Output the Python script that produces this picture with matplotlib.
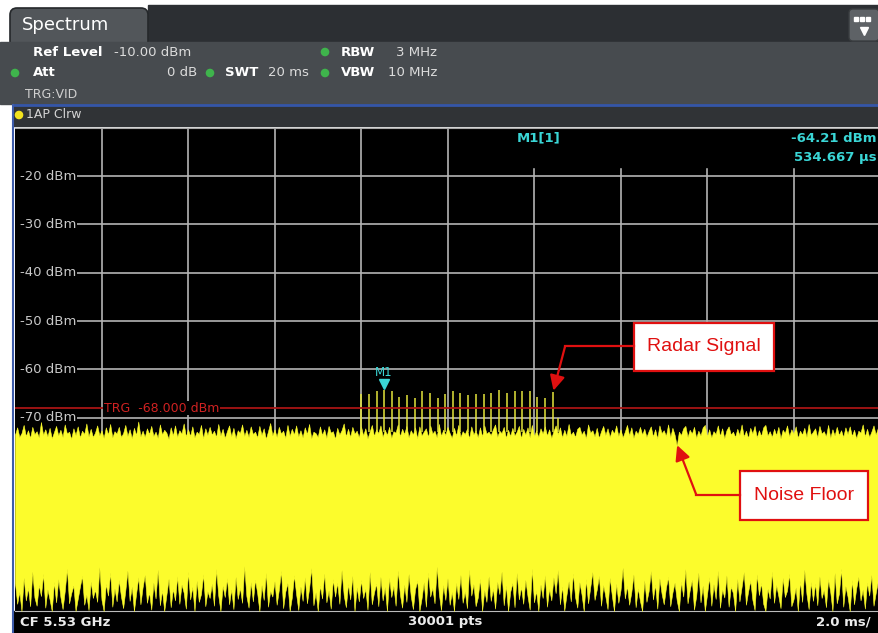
import numpy as np
import matplotlib.pyplot as plt
from matplotlib.patches import Rectangle, FancyBboxPatch, Circle

# sweep: 0..20 ms, trace values in dBm (auto peak -> min/max per column)
sweep_ms = np.linspace(0, 20, 401)

noise_top = [
    -73.5, -72.0, -74.0, -73.2, -71.5, -73.8, -72.6, -74.2, -71.9, -73.4,
    -72.8, -74.1, -70.9, -73.6, -72.4, -73.9, -72.1, -74.3, -73.0, -71.7,
    -73.7, -72.5, -74.0, -71.4, -73.3, -72.9, -74.4, -72.2, -73.6, -71.8,
    -74.1, -72.7, -73.4, -71.2, -73.9, -72.3, -74.0, -73.1, -71.6, -73.7,
    -72.6, -74.2, -72.0, -73.5, -71.3, -74.1, -72.8, -73.3, -71.9, -74.0,
    -73.2, -71.5, -73.8, -72.4, -74.3, -72.1, -73.6, -70.8, -73.9, -72.7,
    -74.0, -72.2, -73.4, -71.7, -73.8, -72.9, -74.2, -71.4, -73.5, -72.5,
    -73.1, -74.4, -72.0, -73.7, -71.6, -74.0, -72.6, -73.3, -71.2, -73.9,
    -72.4, -73.8, -71.8, -74.1, -72.9, -73.4, -71.5, -74.3, -72.2, -73.6,
    -71.9, -73.5, -72.7, -74.0, -71.3, -73.7, -72.3, -74.2, -72.8, -71.6,
    -73.9, -72.1, -74.3, -72.6, -73.2, -71.4, -73.8, -72.5, -74.0, -71.8,
    -73.4, -72.9, -74.1, -71.7, -73.6, -72.2, -74.4, -72.8, -71.1, -73.7,
    -72.4, -74.0, -71.9, -73.3, -72.7, -74.2, -71.5, -73.8, -72.3, -73.5,
    -71.6, -73.9, -72.6, -74.1, -72.0, -73.4, -71.3, -74.3, -72.9, -73.2,
    -74.0, -71.8, -73.6, -72.4, -74.2, -71.7, -73.1, -72.8, -74.4, -72.1,
    -73.5, -72.6, -71.2, -73.9, -72.3, -74.0, -71.9, -73.3, -72.7, -74.1,
    -71.8, -73.7, -72.2, -74.3, -72.9, -71.5, -73.8, -72.4, -73.2, -71.6,
    -74.0, -72.5, -73.6, -71.9, -74.2, -72.8, -73.1, -71.4, -73.9, -72.3,
    -73.4, -71.7, -74.1, -72.6, -73.5, -72.0, -74.3, -71.8, -73.7, -72.9,
    -72.2, -74.0, -71.6, -73.3, -72.7, -74.1, -71.3, -73.8, -72.5, -73.6,
    -71.9, -73.2, -74.2, -72.1, -73.7, -71.5, -74.0, -72.8, -73.4, -72.3,
    -74.3, -71.8, -73.5, -72.6, -74.1, -72.0, -73.9, -71.6, -73.3, -72.9,
    -73.6, -72.4, -71.4, -74.0, -72.7, -73.2, -71.9, -74.2, -72.5, -73.8,
    -72.1, -73.7, -72.9, -71.7, -74.3, -72.3, -73.5, -72.0, -74.1, -71.5,
    -73.9, -72.6, -74.0, -72.2, -73.3, -71.8, -73.7, -72.4, -74.2, -72.8,
    -71.6, -73.4, -72.0, -74.1, -72.5, -73.8, -71.3, -73.6, -72.9, -74.0,
    -72.3, -71.9, -73.5, -72.7, -74.3, -71.4, -73.1, -72.6, -73.9, -72.1,
    -74.2, -72.8, -71.7, -73.6, -72.2, -74.0, -72.5, -73.3, -71.6, -73.8,
    -72.4, -74.1, -72.9, -71.5, -73.7, -72.0, -74.2, -72.7, -73.4, -71.9,
    -73.5, -72.3, -74.0, -72.8, -71.8, -73.9, -72.4, -74.3, -71.6, -73.2,
    -72.6, -73.8, -71.4, -74.1, -72.1, -73.5, -75.8, -72.9, -73.6, -72.2,
    -71.7, -74.0, -72.5, -73.3, -71.9, -74.2, -72.7, -73.7, -72.0, -71.5,
    -73.9, -72.4, -74.1, -72.8, -73.4, -71.6, -73.8, -72.2, -74.3, -72.6,
    -71.8, -73.5, -72.9, -74.0, -72.3, -73.6, -71.4, -73.9, -72.7, -74.2,
    -72.1, -73.3, -71.7, -74.1, -72.6, -73.8, -72.0, -71.5, -73.7, -72.8,
    -74.0, -72.3, -73.6, -71.9, -74.3, -72.5, -73.2, -71.6, -73.9, -72.4,
    -73.4, -71.8, -74.2, -72.7, -73.5, -72.1, -74.0, -71.3, -73.6, -72.9,
    -72.2, -74.1, -71.7, -73.3, -72.8, -73.9, -71.5, -74.2, -72.4, -73.7,
    -71.9, -73.6, -72.6, -74.0, -72.0, -73.4, -71.8, -73.8, -72.5, -74.3,
    -72.7, -73.1, -71.4, -73.9, -72.3, -74.0, -72.9, -71.6, -73.5, -72.1,
    -73.8,
]

noise_bottom = [
    -104.2, -108.5, -106.0, -110.0, -103.1, -107.8, -105.2, -109.0, -101.8, -107.2,
    -108.9, -104.6, -106.9, -102.3, -109.3, -105.5, -107.6, -110.0, -104.0, -108.2,
    -103.4, -107.1, -109.6, -105.9, -101.2, -108.4, -106.3, -104.7, -110.0, -107.5,
    -105.0, -102.7, -108.7, -106.6, -109.8, -103.9, -107.3, -105.6, -108.1, -100.9,
    -107.7, -110.0, -104.4, -106.8, -102.0, -109.1, -105.3, -108.0, -103.6, -107.0,
    -109.4, -105.8, -101.6, -107.9, -104.9, -110.0, -106.4, -103.0, -108.6, -105.1,
    -102.5, -108.3, -106.1, -109.7, -104.1, -107.4, -101.4, -108.8, -105.7, -110.0,
    -106.7, -103.3, -109.2, -105.4, -107.8, -102.8, -108.5, -104.5, -106.2, -109.5,
    -101.9, -107.6, -105.0, -110.0, -103.7, -108.1, -106.5, -102.4, -109.0, -105.9,
    -107.3, -104.3, -108.9, -101.3, -106.8, -110.0, -104.8, -107.1, -103.2, -108.6,
    -105.5, -109.6, -102.9, -107.5, -105.2, -108.3, -100.7, -106.9, -109.3, -104.0,
    -108.0, -103.5, -106.3, -110.0, -104.6, -107.7, -102.1, -109.1, -105.8, -107.0,
    -103.8, -108.7, -105.6, -101.7, -109.4, -106.0, -104.2, -110.0, -107.2, -102.6,
    -106.5, -109.8, -104.9, -107.9, -103.0, -108.4, -105.3, -101.1, -108.8, -106.1,
    -110.0, -104.7, -107.4, -102.2, -108.2, -105.7, -109.5, -103.4, -107.0, -104.1,
    -108.5, -101.5, -106.7, -109.2, -104.4, -107.6, -102.7, -110.0, -105.1, -108.0,
    -103.6, -107.3, -105.4, -109.7, -101.9, -108.6, -106.2, -104.3, -109.0, -102.9,
    -107.8, -105.0, -110.0, -103.1, -107.1, -104.8, -108.9, -101.6, -106.6, -109.3,
    -104.5, -108.1, -102.3, -106.9, -109.6, -105.5, -103.7, -110.0, -107.4, -104.0,
    -109.1, -102.0, -107.0, -105.2, -108.4, -100.8, -106.4, -109.8, -104.6, -107.7,
    -103.2, -108.7, -106.0, -110.0, -104.1, -107.5, -102.5, -108.3, -105.9, -109.4,
    -101.4, -106.8, -104.4, -109.0, -107.2, -103.3, -110.0, -105.6, -108.1, -102.8,
    -107.9, -105.3, -109.5, -103.9, -106.5, -101.8, -108.8, -104.7, -110.0, -106.0,
    -104.2, -109.2, -102.1, -107.6, -105.0, -108.5, -103.5, -106.9, -109.7, -101.2,
    -108.2, -105.8, -110.0, -104.5, -107.3, -102.6, -109.1, -105.4, -107.8, -103.0,
    -106.3, -101.5, -108.6, -104.9, -109.9, -106.7, -103.8, -108.0, -102.2, -107.1,
    -109.3, -104.0, -106.6, -110.0, -103.4, -108.4, -105.1, -101.9, -107.7, -105.6,
    -102.7, -108.9, -104.6, -107.0, -109.6, -103.1, -106.8, -110.0, -104.3, -108.3,
    -105.7, -101.0, -107.4, -104.8, -108.7, -106.1, -102.4, -109.2, -105.3, -107.9,
    -110.0, -103.6, -108.1, -105.9, -101.7, -107.6, -104.5, -109.5, -103.2, -106.4,
    -108.6, -105.2, -102.9, -109.0, -106.2, -104.1, -107.8, -110.0, -103.9, -107.0,
    -101.3, -108.4, -105.7, -103.5, -109.7, -106.9, -102.0, -108.2, -104.7, -110.0,
    -106.6, -103.0, -108.9, -104.4, -107.5, -101.6, -109.3, -105.5, -107.2, -102.6,
    -109.1, -104.9, -106.3, -110.0, -103.3, -108.0, -105.0, -101.9, -108.7, -106.0,
    -103.7, -107.7, -109.8, -102.4, -106.7, -104.2, -108.5, -110.0, -105.4, -107.4,
    -101.8, -108.3, -104.6, -106.9, -109.4, -103.1, -107.1, -105.8, -102.3, -109.0,
    -107.6, -105.1, -110.0, -103.8, -108.1, -101.4, -106.5, -109.6, -104.0, -107.9,
    -104.3, -108.8, -102.8, -107.3, -105.6, -109.2, -103.4, -106.1, -110.0, -102.1,
    -108.4, -106.4, -101.2, -109.1, -104.8, -107.0, -110.0, -103.6, -108.6, -105.3,
    -102.9, -107.8, -105.5, -109.5, -104.1, -106.8, -102.5, -108.9, -106.3, -103.8,
    -108.0,
]

# radar pulses (ms, peak dBm)
pulse_ms = [8.00, 8.19, 8.36, 8.53, 8.71, 8.89, 9.06, 9.24, 9.42, 9.60,
            9.77, 9.95, 10.13, 10.30, 10.48, 10.66, 10.84, 11.01, 11.19, 11.37,
            11.55, 11.72, 11.90, 12.08, 12.25, 12.45, 12.56]
pulse_top = [-65.0, -65.0, -64.5, -64.2, -64.5, -65.8, -65.3, -66.0, -64.5, -64.8,
             -66.0, -65.0, -64.5, -64.8, -65.3, -65.0, -65.0, -64.8, -64.2, -64.8,
             -64.5, -64.5, -64.5, -65.7, -66.0, -64.7, -70.0]

marker_ms = 8.53
marker_dbm = -64.21
trg_level = -68.0

ytick_vals = [-20, -30, -40, -50, -60, -70]
xgrid_vals = [2, 4, 6, 8, 10, 12, 14, 16, 18]

YELLOW = '#fcfc2c'
CYAN = '#3ad6d6'
RED = '#e01010'

fig = plt.figure(figsize=(8.79, 6.33), dpi=100)
fig.patch.set_facecolor('white')

# ---- instrument frame, drawn in pixel coordinates ----
bg = fig.add_axes([0, 0, 1, 1])
bg.set_xlim(0, 879)
bg.set_ylim(633, 0)
bg.axis('off')
bg.set_zorder(0)

bg.add_patch(Rectangle((148, 5), 731, 38, color='#2c2f33'))
bg.add_patch(FancyBboxPatch((10, 8), 138, 40, boxstyle='round,pad=0,rounding_size=7',
                            fc='#52565a', ec='#25282b', lw=1.2))
bg.text(22, 25, 'Spectrum', color='white', fontsize=13, va='center')

bg.add_patch(FancyBboxPatch((849, 9), 30, 32, boxstyle='round,pad=0,rounding_size=4',
                            fc='#5e6266', ec='#3a3d40', lw=1))
for dx in (856, 862, 868):
    bg.add_patch(Rectangle((dx - 2, 17), 4.5, 4, color='white'))
bg.plot(864, 31, marker='v', color='white', ms=6)

bg.add_patch(Rectangle((0, 42), 879, 62, color='#474b4f'))
bg.add_patch(Rectangle((13, 106), 866, 20, color='#303336'))
bg.plot([13, 879], [105, 105], color='#3556a8', lw=2)
bg.plot([13.5, 13.5], [105, 633], color='#3d5cab', lw=1.5)

for cx, cy in [(325, 52), (15, 73), (210, 73), (325, 73)]:
    bg.add_patch(Circle((cx, cy), 3.6, color='#3fb44c'))

info_bold = [(33, 52, 'Ref Level'), (341, 52, 'RBW'), (33, 73, 'Att'),
             (225, 73, 'SWT'), (341, 73, 'VBW')]
for x, y, s in info_bold:
    bg.text(x, y, s, color='white', fontsize=9.5, fontweight='bold', va='center')
info_plain = [(114, 52, '-10.00 dBm'), (396, 52, '3 MHz'), (268, 73, '20 ms'),
              (388, 73, '10 MHz')]
for x, y, s in info_plain:
    bg.text(x, y, s, color='#dcdcdc', fontsize=9.5, va='center')
bg.text(197, 73, '0 dB', color='#dcdcdc', fontsize=9.5, va='center', ha='right')
bg.text(25, 94, 'TRG:VID', color='#d0d0d0', fontsize=9, va='center')

bg.add_patch(Circle((19, 115), 3.6, color='#f2e21e'))
bg.text(26, 115, '1AP Clrw', color='#d4d4d4', fontsize=9, va='center')

bg.add_patch(Rectangle((14, 611), 865, 22, color='black'))
bg.text(20, 622, 'CF 5.53 GHz', color='#ececec', fontsize=9.5, fontweight='bold', va='center')
bg.text(445, 622, '30001 pts', color='#ececec', fontsize=9.5, fontweight='bold',
        va='center', ha='center')
bg.text(871, 622, '2.0 ms/', color='#ececec', fontsize=9.5, fontweight='bold',
        va='center', ha='right')

# ---- trace window ----
ax = fig.add_axes([15 / 879, 22 / 633, 865 / 879, 483.3 / 633])
ax.set_zorder(1)
ax.set_facecolor('black')
ax.set_xlim(0, 20)
ax.set_ylim(-110, -10)
ax.set_xticks([])
ax.set_yticks([])
for side in ('left', 'right'):
    ax.spines[side].set_visible(False)
ax.spines['top'].set_color('#a8a8a8')
ax.spines['bottom'].set_color('#bcbcbc')

grid_c = '#b4b4b4'
ax.vlines(xgrid_vals, -92, -10, color=grid_c, lw=1.2, zorder=1)
ax.hlines(ytick_vals, 1.43, 20, color=grid_c, lw=1.2, zorder=1)
for y in ytick_vals:
    ax.text(0.12, y, f'{y} dBm', color='#c8c8c8', fontsize=9.5, va='center', zorder=6)

# marker readout box hides the top of the grid
ax.add_patch(Rectangle((10.3, -18.1), 9.7, 8.1, color='black', zorder=2))
ax.text(11.6, -12.2, 'M1[1]', color=CYAN, fontsize=9.5, fontweight='bold', va='center', zorder=6)
ax.text(19.93, -12.2, '-64.21 dBm', color=CYAN, fontsize=9.5, fontweight='bold',
        va='center', ha='right', zorder=6)
ax.text(19.93, -16.1, '534.667 µs', color=CYAN, fontsize=9.5, fontweight='bold',
        va='center', ha='right', zorder=6)

ax.fill_between(sweep_ms, noise_bottom, noise_top, color=YELLOW, lw=0.4, zorder=3)
ax.vlines(pulse_ms, -73, pulse_top, color='#e4e43c', lw=1.1, zorder=3)

ax.axhline(trg_level, color='#a81414', lw=1.3, zorder=4)
ax.text(2.05, trg_level, 'TRG  -68.000 dBm', color='#d02222', fontsize=9, va='center',
        zorder=5, bbox=dict(fc='black', ec='none', pad=0.6))

ax.plot(marker_ms, marker_dbm + 1.1, marker='v', color=CYAN, ms=7, zorder=6)
ax.text(marker_ms, -60.6, 'M1', color=CYAN, fontsize=8.5, ha='center', va='center', zorder=6)

# ---- callouts ----
ax.add_patch(Rectangle((14.31, -60.3), 3.24, 9.9, fc='white', ec=RED, lw=1.6, zorder=7))
ax.text(15.93, -55.3, 'Radar Signal', color=RED, fontsize=14, ha='center', va='center',
        family='Liberation Sans', zorder=8)
ax.plot([14.31, 12.72], [-55.2, -55.2], color=RED, lw=1.6, zorder=7)
ax.annotate('', xy=(12.45, -64.4), xytext=(12.72, -55.2), zorder=7,
            arrowprops=dict(arrowstyle='-|>,head_length=0.9,head_width=0.45',
                            color=RED, lw=1.6, shrinkA=0, shrinkB=0))

ax.add_patch(Rectangle((16.76, -91.1), 2.96, 10.1, fc='white', ec=RED, lw=1.6, zorder=7))
ax.text(18.24, -86.1, 'Noise Floor', color=RED, fontsize=14, ha='center', va='center',
        family='Liberation Sans', zorder=8)
ax.plot([16.76, 15.75], [-85.9, -85.9], color=RED, lw=1.6, zorder=7)
ax.annotate('', xy=(15.31, -75.7), xytext=(15.75, -85.9), zorder=7,
            arrowprops=dict(arrowstyle='-|>,head_length=0.9,head_width=0.45',
                            color=RED, lw=1.6, shrinkA=0, shrinkB=0))

fig.savefig('out.png', dpi=100, facecolor='white')
